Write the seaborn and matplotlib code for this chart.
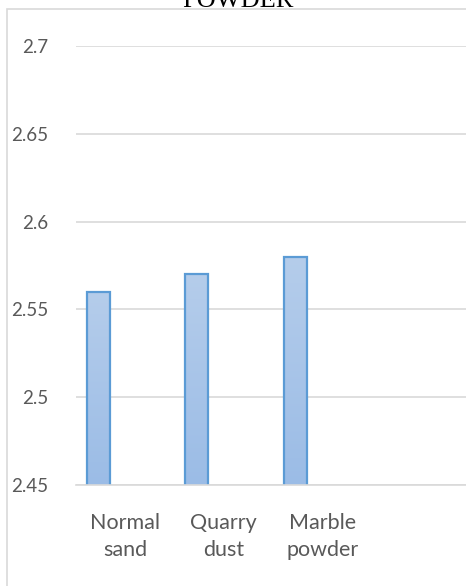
import numpy as np
import pandas as pd
import matplotlib
matplotlib.use("Agg")
import matplotlib.pyplot as plt
import seaborn as sns
from matplotlib.patches import Rectangle
from matplotlib.colors import LinearSegmentedColormap

# Specific gravity of the fine aggregates
categories = ["Normal\nsand", "Quarry\ndust", "Marble\npowder", " "]
series = ["Specific gravity", "Series 2", "Series 3"]
specific_gravity = [2.56, 2.57, 2.58, np.nan]
y_ticks = [2.45, 2.5, 2.55, 2.6, 2.65, 2.7]
y_tick_labels = ["2.45", "2.5", "2.55", "2.6", "2.65", "2.7"]

rows = []
for cat, val in zip(categories, specific_gravity):
    rows.append({"material": cat, "series": series[0], "value": val})
    for s in series[1:]:
        rows.append({"material": cat, "series": s, "value": np.nan})
df = pd.DataFrame(rows)

sns.set_theme(style="white")
plt.rcParams["font.family"] = ["Lato", "DejaVu Sans"]

W, H = 466, 586
fig = plt.figure(figsize=(W / 100, H / 100), dpi=100)
ax = fig.add_axes([76 / W, 1 - 485 / H, (470 - 76) / W, (485 - 46) / H])

edge = "#5b9bd5"
sns.barplot(data=df, x="material", y="value", hue="series",
            order=categories, hue_order=series, width=0.82, gap=0.15,
            palette=["#a5c2e7", "#ffffff", "#ffffff"], legend=False,
            edgecolor=edge, linewidth=1.6, ax=ax, errorbar=None)

ax.set_ylim(2.45, 2.7)
ax.set_yticks(y_ticks)
ax.set_yticklabels(y_tick_labels)
ax.set_xlabel("")
ax.set_ylabel("")

# vertical gradient fill inside each bar
cmap = LinearSegmentedColormap.from_list("grad", ["#9bbce6", "#b5cdeb"])
grad = np.linspace(0, 1, 256).reshape(-1, 1)
for patch in list(ax.patches):
    h = patch.get_height()
    if not np.isfinite(h) or h == 0:
        continue
    x0 = patch.get_x()
    x1 = x0 + patch.get_width()
    top = patch.get_y() + h
    im = ax.imshow(grad, cmap=cmap, origin="lower", aspect="auto",
                   extent=(x0, x1, 2.45, top), zorder=patch.get_zorder() - 0.1)
    im.set_clip_path(patch)
    patch.set_facecolor("none")
ax.set_xlim(-0.5, len(categories) - 0.5)
ax.set_ylim(2.45, 2.7)

ax.yaxis.grid(True, color="#d9d9d9", linewidth=1.2)
ax.set_axisbelow(True)
for side in ["left", "right", "top"]:
    ax.spines[side].set_visible(False)
ax.spines["bottom"].set_color("#d9d9d9")
ax.spines["bottom"].set_linewidth(1.2)
ax.tick_params(axis="both", length=0, colors="#595959")
ax.tick_params(axis="y", pad=20, labelsize=13.5)
ax.tick_params(axis="x", pad=20, labelsize=15.5)
for lbl in ax.get_xticklabels():
    lbl.set_linespacing(1.45)

# chart area border
fig.patches.append(Rectangle((7 / W, -0.5), 2.0, 1.5 - 9 / H, transform=fig.transFigure,
                             fill=False, edgecolor="#d9d9d9", linewidth=1.2))

fig.text(238 / W, 1 - 7 / H, "POWDER", family="Liberation Serif", fontsize=19,
         color="black", ha="center", va="baseline")

fig.savefig("out.png", dpi=100)
